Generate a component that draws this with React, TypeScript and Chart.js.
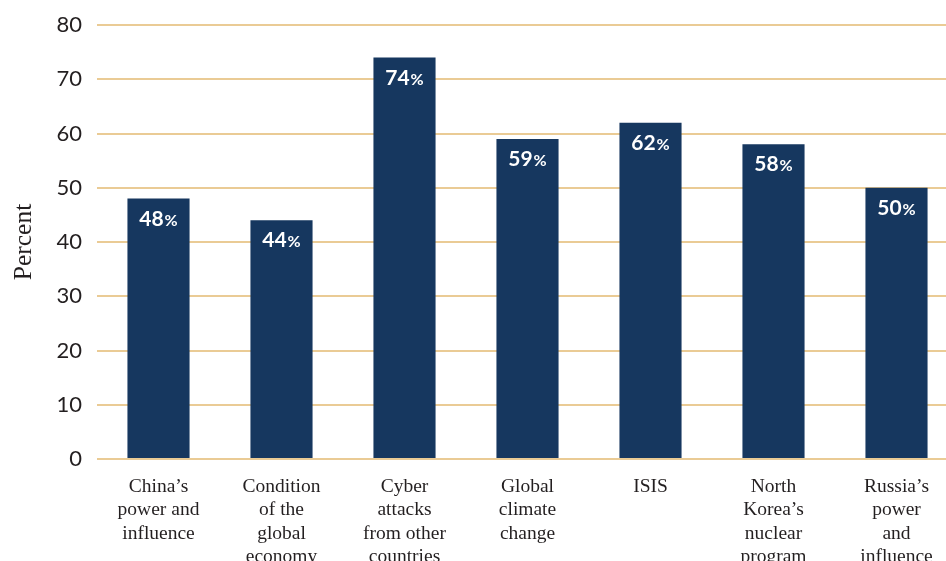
import React, { useEffect, useRef } from "react";
import { Chart, registerables } from "chart.js";

Chart.register(...registerables);

const categories: string[][] = [
  ["China’s", "power and", "influence"],
  ["Condition", "of the", "global", "economy"],
  ["Cyber", "attacks", "from other", "countries"],
  ["Global", "climate", "change"],
  ["ISIS"],
  ["North", "Korea’s", "nuclear", "program"],
  ["Russia’s", "power", "and", "influence"],
];
const values: number[] = [48, 44, 74, 59, 62, 58, 50];
const yTicks: number[] = [0, 10, 20, 30, 40, 50, 60, 70, 80];

const BAR = "#16375F";
const GRID = "#EACB95";

const labelPlugin = {
  id: "pctLabels",
  afterDatasetsDraw(chart: any) {
    const ctx = chart.ctx;
    const meta = chart.getDatasetMeta(0);
    ctx.save();
    ctx.fillStyle = "#FFFFFF";
    ctx.textBaseline = "alphabetic";
    meta.data.forEach((bar: any, i: number) => {
      const num = String(values[i]);
      const pct = "%";
      ctx.font = "bold 21px Lato";
      const w1 = ctx.measureText(num).width;
      ctx.font = "bold 16px Lato";
      const w2 = ctx.measureText(pct).width;
      const total = w1 + w2 + 1;
      const x0 = bar.x - total / 2;
      const y = bar.y + 27;
      ctx.font = "bold 21px Lato";
      ctx.textAlign = "left";
      ctx.fillText(num, x0, y);
      ctx.font = "bold 16px Lato";
      ctx.fillText(pct, x0 + w1 + 1, y);
    });
    ctx.restore();
  },
};

export default function App() {
  const ref = useRef<HTMLCanvasElement | null>(null);
  useEffect(() => {
    if (!ref.current) return;
    const chart = new Chart(ref.current, {
      type: "bar",
      data: {
        labels: categories,
        datasets: [
          {
            data: values,
            backgroundColor: BAR,
            categoryPercentage: 1,
            barPercentage: 0.505,
          },
        ],
      },
      options: {
        animation: false,
        responsive: false,
        maintainAspectRatio: false,
        layout: { padding: { top: 25, left: 0, right: 0, bottom: 0 } },
        plugins: { legend: { display: false }, tooltip: { enabled: false } },
        scales: {
          x: {
            grid: { display: false },
            border: { display: false },
            ticks: {
              color: "#231F20",
              font: { family: "Liberation Serif", size: 19.5 },
              padding: 8,
              maxRotation: 0,
              autoSkip: false,
            },
            afterFit: (s: any) => {
              s.height = 141;
              s.paddingLeft = 0;
              s.paddingRight = 0;
            },
          },
          y: {
            min: 0,
            max: 80,
            afterBuildTicks: (s: any) => {
              s.ticks = yTicks.map((v) => ({ value: v }));
            },
            grid: { color: GRID, lineWidth: 2, drawTicks: false },
            border: { display: false },
            ticks: {
              color: "#231F20",
              font: { family: "Lato", size: 22 },
              padding: 15,
            },
            title: {
              display: true,
              text: "Percent",
              color: "#231F20",
              font: { family: "Liberation Serif", size: 25.5 },
              padding: { top: 9, bottom: 0 },
            },
            afterFit: (s: any) => {
              s.width = 97;
              s.paddingTop = 0;
              s.paddingBottom = 0;
            },
          },
        },
      },
      plugins: [labelPlugin],
    });
    return () => chart.destroy();
  }, []);
  return (
    <div
      style={{
        position: "fixed",
        left: 0,
        top: 0,
        width: 946,
        height: 561,
        overflow: "hidden",
        background: "#fff",
      }}
    >
      <canvas ref={ref} width={958} height={600} style={{ display: "block" }} />
    </div>
  );
}
